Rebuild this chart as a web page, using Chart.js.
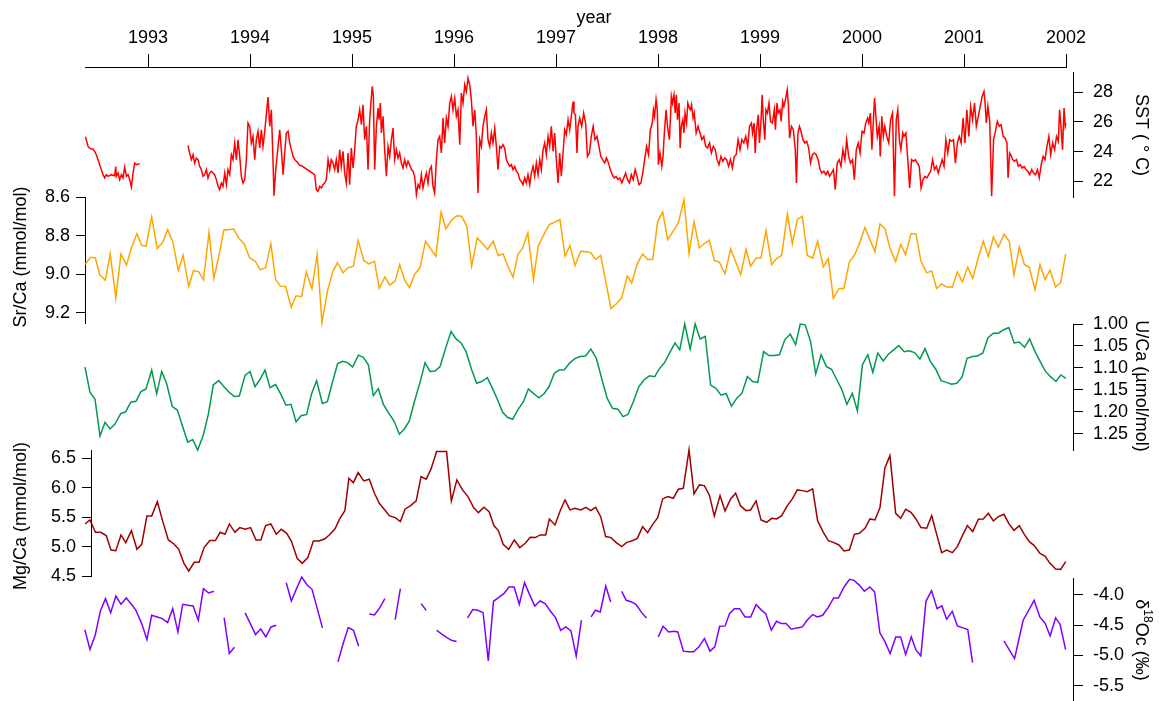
<!DOCTYPE html>
<html>
<head>
<meta charset="utf-8">
<script src="https://cdn.jsdelivr.net/npm/chart.js@4.4.1/dist/chart.umd.min.js"></script>
<style>
  html, body { margin: 0; padding: 0; background: #fff; }
  #wrap { width: 1159px; height: 701px; }
</style>
</head>
<body>
<div id="wrap"><canvas id="main-chart" width="1159" height="701"></canvas></div>
<script>
// tick values
const yearTicks = [1993, 1994, 1995, 1996, 1997, 1998, 1999, 2000, 2001, 2002];
const sstTicks = [22, 24, 26, 28];
const srcaTicks = [8.6, 8.8, 9.0, 9.2];
const ucaTicks = [1.00, 1.05, 1.10, 1.15, 1.20, 1.25];
const mgcaTicks = [4.5, 5.0, 5.5, 6.0, 6.5];
const d18oTicks = [-4.0, -4.5, -5.0, -5.5];

// SST (weekly, with gaps)
const sstYears = [
  1992.386,1992.412,1992.428,1992.444,1992.461,1992.477,1992.493,1992.510,1992.526,1992.542,1992.559,1992.575,1992.592,1992.608,1992.641,1992.673,1992.683,1992.690,1992.706,1992.722,1992.739,1992.755,1992.771,1992.788,1992.804,1992.820,1992.837,1992.853,1992.869,1992.886,1992.918,
  1993.150,
  1993.392,1993.408,1993.425,1993.441,1993.457,1993.474,1993.490,1993.506,1993.523,1993.539,1993.555,1993.572,1993.588,1993.604,1993.621,1993.637,1993.653,1993.670,1993.686,1993.702,1993.719,1993.735,1993.752,1993.768,1993.784,1993.801,1993.817,1993.833,1993.850,1993.866,1993.882,1993.899,1993.915,1993.931,1993.948,1993.964,1993.980,1993.997,
  1994.013,1994.029,1994.046,1994.062,1994.078,1994.095,1994.111,1994.127,1994.144,1994.160,1994.176,1994.193,1994.209,1994.225,1994.235,1994.252,1994.275,1994.291,1994.307,1994.324,1994.340,1994.356,1994.373,1994.389,1994.405,1994.422,1994.438,1994.454,1994.471,1994.487,1994.503,
  1994.634,1994.650,1994.667,1994.683,1994.699,1994.716,1994.732,1994.748,1994.765,1994.781,1994.797,1994.814,1994.830,1994.846,1994.863,1994.879,1994.895,1994.912,1994.928,1994.944,1994.961,1994.977,1994.993,
  1995.010,1995.026,1995.042,1995.059,1995.075,1995.092,1995.108,1995.124,1995.141,1995.157,1995.173,1995.190,1995.199,1995.209,1995.222,1995.239,1995.255,1995.265,1995.278,1995.288,1995.304,1995.320,1995.337,1995.353,1995.369,1995.386,1995.402,1995.418,1995.435,1995.451,1995.467,1995.484,1995.500,1995.516,1995.533,1995.549,1995.565,1995.582,1995.598,1995.614,1995.631,1995.647,1995.663,1995.680,1995.696,1995.712,1995.729,1995.745,1995.761,1995.778,1995.794,1995.810,1995.827,1995.843,1995.859,1995.876,1995.892,1995.908,1995.925,1995.941,1995.958,1995.974,1995.990,
  1996.007,1996.023,1996.039,1996.056,1996.072,1996.088,1996.105,1996.121,1996.137,1996.154,1996.170,1996.186,1996.203,1996.219,1996.235,1996.252,1996.268,1996.284,1996.301,1996.317,1996.333,1996.350,1996.366,1996.382,1996.399,1996.415,1996.431,1996.448,1996.464,1996.480,1996.497,1996.513,1996.529,1996.546,1996.562,1996.578,1996.595,1996.611,1996.627,1996.644,1996.660,1996.676,1996.693,1996.709,1996.725,1996.742,1996.758,1996.775,1996.791,1996.807,1996.824,1996.840,1996.856,1996.873,1996.889,1996.905,1996.922,1996.938,1996.954,1996.971,1996.987,
  1997.003,1997.020,1997.036,1997.052,1997.069,1997.085,1997.101,1997.118,1997.134,1997.150,1997.167,1997.176,1997.190,1997.206,1997.216,1997.232,
  1997.252,1997.271,1997.290,1997.308,1997.327,1997.346,1997.364,1997.383,1997.402,1997.421,1997.439,1997.458,1997.477,1997.495,1997.514,1997.533,1997.551,1997.570,1997.589,1997.607,1997.626,1997.645,1997.664,1997.682,1997.701,1997.720,1997.738,1997.757,1997.776,1997.794,1997.813,1997.832,1997.850,1997.869,1997.888,1997.907,1997.925,1997.944,1997.955,1997.966,1997.981,1997.993,
  1998.004,1998.019,1998.037,1998.049,1998.064,1998.079,1998.093,1998.112,1998.131,1998.142,1998.157,1998.168,1998.179,1998.191,1998.206,1998.217,1998.228,1998.243,1998.254,1998.265,1998.280,1998.292,1998.307,1998.318,1998.329,1998.344,1998.355,1998.374,1998.393,1998.411,1998.430,1998.449,1998.467,1998.486,1998.505,1998.523,1998.542,1998.561,1998.579,1998.598,1998.617,1998.636,1998.654,1998.673,1998.692,1998.710,1998.729,1998.748,1998.766,1998.785,1998.804,1998.822,1998.841,1998.860,1998.879,1998.897,1998.916,1998.927,1998.942,1998.953,1998.964,1998.983,1998.994,
  1999.009,1999.021,1999.032,1999.047,1999.058,1999.073,1999.088,1999.103,1999.121,1999.140,1999.151,1999.166,1999.178,1999.196,1999.207,1999.222,1999.234,1999.252,1999.267,1999.279,1999.290,1999.308,1999.327,1999.346,1999.357,1999.372,1999.387,1999.402,1999.421,1999.439,1999.458,1999.477,1999.495,1999.514,1999.533,1999.551,1999.570,1999.589,1999.607,1999.626,1999.645,1999.664,1999.682,1999.701,1999.720,1999.738,1999.757,1999.776,1999.794,1999.813,1999.832,1999.850,1999.869,1999.888,1999.907,1999.925,1999.944,1999.963,1999.981,
  2000.000,2000.019,2000.037,2000.056,2000.067,2000.082,2000.097,2000.112,2000.123,2000.135,2000.150,2000.168,2000.179,2000.194,2000.209,2000.224,2000.243,2000.262,2000.280,2000.299,2000.318,2000.336,2000.351,2000.366,2000.381,2000.400,2000.411,2000.430,2000.449,2000.467,2000.486,2000.505,2000.523,2000.542,2000.561,2000.579,2000.598,2000.617,2000.636,2000.654,2000.673,2000.692,2000.710,2000.729,2000.748,2000.766,2000.785,2000.804,2000.822,2000.841,2000.860,2000.879,2000.897,2000.916,2000.935,2000.953,2000.972,2000.991,
  2001.009,2001.028,2001.047,2001.065,2001.084,2001.103,2001.121,2001.140,2001.159,2001.178,2001.196,2001.207,2001.219,2001.234,2001.252,2001.271,2001.290,2001.308,2001.327,2001.346,2001.364,2001.383,2001.402,2001.421,2001.432,2001.447,2001.465,2001.477,2001.495,2001.514,2001.533,2001.551,2001.570,2001.589,2001.607,2001.626,2001.645,2001.664,2001.682,2001.701,2001.720,2001.738,2001.757,2001.776,2001.794,2001.813,2001.832,2001.850,2001.869,2001.888,2001.907,2001.925,2001.937,2001.951,2001.966,2001.981,2001.993,2002.000
];
const sstValues = [
  25.00,24.35,24.24,24.17,24.17,24.02,23.79,23.46,23.12,22.79,22.45,22.23,22.45,22.34,22.45,22.38,23.00,22.34,22.56,22.12,22.45,22.23,22.97,22.34,22.45,22.12,21.62,22.56,23.23,23.12,23.19,
  null,
  24.40,23.91,23.46,23.79,23.23,23.57,23.46,23.01,22.79,22.34,22.45,22.79,22.23,22.56,22.68,22.56,22.45,22.12,21.67,21.45,21.89,21.67,22.56,21.78,22.79,22.45,23.79,23.46,24.58,23.46,24.80,23.68,22.34,21.89,22.12,23.46,25.92,25.70,
  24.58,25.02,23.46,24.80,25.36,24.24,25.47,24.35,25.36,26.48,27.66,25.70,26.81,23.46,21.04,22.79,24.35,25.47,24.13,22.45,23.91,25.25,25.36,24.58,24.13,23.68,23.46,23.35,23.23,23.06,23.06,
  22.45,21.45,21.33,21.67,21.56,21.78,21.89,22.12,23.46,22.79,23.46,23.23,22.79,23.46,22.56,24.13,23.01,24.02,22.56,21.89,23.91,21.78,24.24,
  22.90,24.13,25.70,26.14,26.81,25.81,27.15,24.80,25.70,22.79,26.14,27.71,28.38,27.71,22.79,25.70,26.93,26.14,27.26,25.25,26.37,24.13,22.34,24.35,23.68,24.80,25.58,23.46,24.13,23.57,23.91,23.23,22.90,23.46,23.01,23.35,23.12,22.79,22.68,22.34,21.11,21.78,21.56,22.45,21.56,22.12,22.56,21.89,22.79,23.01,21.67,21.22,23.46,24.80,25.02,23.91,26.26,24.58,26.26,25.70,27.26,27.71,26.81,
  27.60,26.37,26.81,24.47,27.93,27.26,28.49,28.04,28.94,28.49,27.49,25.70,26.81,25.02,21.22,24.80,24.35,25.70,26.37,26.81,24.80,24.35,25.25,24.58,25.58,24.35,22.79,24.35,24.24,24.47,24.24,23.46,23.23,23.01,23.12,22.79,23.01,22.68,22.56,22.12,22.00,21.78,22.23,21.89,22.45,21.78,22.56,23.01,22.34,23.23,22.45,23.46,22.79,24.13,24.58,23.79,25.02,24.35,25.70,24.02,25.25,
  23.46,21.89,23.91,22.34,23.91,25.47,25.14,26.14,25.47,26.37,27.37,26.59,26.48,23.91,25.70,26.26,
  25.70,26.59,25.92,23.68,23.91,25.02,25.70,24.80,25.02,24.35,23.68,23.46,23.23,23.57,23.23,22.79,22.45,22.23,22.34,22.12,22.23,21.89,22.23,22.56,22.12,21.89,22.45,22.12,22.79,22.34,21.78,21.89,22.56,23.46,24.35,23.79,25.47,25.92,26.81,26.37,27.49,26.81,
  23.12,23.91,23.01,23.68,25.47,26.81,25.70,24.80,27.71,27.26,27.82,26.59,27.82,26.14,27.26,24.24,25.70,26.14,25.25,26.59,25.92,27.26,26.93,26.81,27.15,26.26,26.59,25.25,25.70,25.25,24.80,25.02,24.35,24.24,24.58,23.91,24.35,24.13,23.46,23.12,23.68,23.35,23.57,23.46,23.01,23.46,22.90,23.68,23.79,24.80,24.13,24.80,24.58,25.02,24.35,25.70,25.92,25.25,25.92,23.91,25.36,26.48,24.58,
  25.92,27.82,26.14,24.80,26.81,26.59,27.26,26.03,25.92,26.81,25.47,27.26,26.59,26.81,26.03,27.37,27.04,27.60,28.16,27.04,24.91,25.70,25.47,24.13,21.89,25.25,25.70,25.36,24.80,24.58,24.69,24.24,23.23,23.79,23.91,23.79,23.46,22.79,22.56,22.68,22.45,22.68,22.34,22.56,22.79,21.45,23.23,23.46,23.01,24.13,23.46,24.80,23.68,23.23,23.46,22.12,24.13,24.58,23.91,
  25.36,25.25,25.92,26.26,25.92,26.59,24.13,26.14,27.60,26.48,25.02,25.70,23.68,26.37,25.02,25.70,25.02,24.58,26.14,26.59,21.00,26.14,26.81,24.80,24.13,25.25,25.02,25.25,23.46,21.56,23.46,23.35,23.46,23.23,23.01,21.56,22.12,22.34,22.23,22.45,22.68,23.46,22.79,23.01,22.56,23.01,23.46,23.01,24.80,23.91,24.80,24.69,24.80,23.23,24.58,25.02,24.58,26.26,
  24.58,26.81,25.02,27.04,26.14,27.26,25.70,26.37,27.04,27.71,28.04,27.26,25.92,27.04,26.03,21.00,24.80,25.36,26.03,25.70,25.81,25.02,24.91,24.58,22.23,23.91,23.68,23.46,23.35,23.46,23.01,23.12,22.90,23.01,22.79,22.68,22.45,22.79,22.56,22.45,22.79,22.23,23.12,23.68,23.46,24.35,25.02,23.79,24.58,24.13,25.02,24.69,26.81,25.70,24.13,26.93,25.70,25.92
];

// Sr/Ca
const srcaYears = [
  1992.383,1992.437,1992.484,1992.528,1992.582,1992.629,1992.684,1992.735,1992.789,1992.836,1992.891,1992.938,1992.981,
  1993.036,1993.090,1993.145,1993.192,1993.243,1993.297,1993.344,1993.399,1993.446,1993.497,1993.544,1993.598,1993.645,1993.696,1993.743,1993.841,1993.888,1993.943,1993.997,
  1994.052,1994.099,1994.153,1994.204,1994.251,1994.298,1994.349,1994.404,1994.451,1994.505,1994.552,1994.607,1994.658,1994.705,1994.759,1994.814,1994.857,1994.912,1994.959,
  1995.013,1995.060,1995.115,1995.165,1995.220,1995.267,1995.322,1995.369,1995.423,1995.467,1995.514,1995.564,1995.612,1995.666,1995.721,1995.775,1995.822,1995.873,1995.920,1995.974,
  1996.028,1996.075,1996.126,1996.173,1996.227,1996.275,1996.329,1996.384,1996.434,1996.481,1996.528,1996.579,1996.626,1996.673,1996.724,1996.779,1996.826,1996.880,1996.935,
  1997.039,1997.088,1997.137,1997.186,1997.242,1997.294,1997.340,1997.389,1997.438,1997.487,1997.539,1997.595,1997.644,1997.699,1997.742,1997.797,1997.849,1997.898,1997.948,1997.997,
  1998.046,1998.095,1998.150,1998.199,1998.255,1998.304,1998.353,1998.405,1998.454,1998.503,1998.552,1998.601,1998.657,1998.712,1998.761,1998.810,1998.863,1998.908,1998.961,
  1999.010,1999.059,1999.114,1999.163,1999.212,1999.268,1999.317,1999.366,1999.415,1999.464,1999.516,1999.565,1999.621,1999.670,1999.719,1999.774,1999.823,1999.876,1999.925,1999.974,
  2000.029,2000.078,2000.127,2000.176,2000.225,2000.274,2000.330,2000.379,2000.428,2000.480,2000.529,2000.578,2000.634,2000.683,2000.732,2000.781,2000.830,2000.886,2000.935,2000.984,
  2001.036,2001.085,2001.141,2001.189,2001.239,2001.288,2001.337,2001.392,2001.444,2001.490,2001.542,2001.591,2001.640,2001.696,2001.745,2001.794,2001.843,2001.898,2001.948,2001.997
];
const srcaValues = [
  8.950,8.912,8.916,9.005,9.031,8.895,9.122,8.895,8.953,8.864,8.790,8.850,8.855,
  8.703,8.867,8.834,8.769,8.833,8.981,8.902,9.064,8.981,8.988,9.029,8.783,9.022,8.902,8.772,8.766,8.812,8.843,8.916,
  8.933,8.978,8.967,8.843,9.028,9.062,9.064,9.171,9.112,9.117,8.988,9.076,8.898,9.252,9.088,8.984,8.941,8.993,8.967,
  8.959,8.826,8.929,8.947,8.933,9.074,9.014,9.057,9.036,8.950,9.028,9.071,9.002,8.967,8.829,8.872,8.907,8.678,8.766,8.721,
  8.697,8.700,8.752,8.959,8.812,8.838,8.872,8.829,8.903,8.895,8.959,9.016,8.898,8.864,8.786,9.028,8.855,8.795,8.743,
  8.717,8.907,8.852,8.955,8.881,8.884,8.888,8.924,8.903,9.036,9.178,9.152,9.122,9.010,9.045,8.945,8.895,8.924,8.924,8.726,
  8.678,8.821,8.776,8.734,8.614,8.893,8.729,8.864,8.841,8.824,8.929,8.938,8.998,8.869,8.936,9.002,8.872,8.959,8.917,
  8.915,8.774,8.950,8.919,8.902,8.688,8.843,8.716,8.700,8.903,8.917,8.829,8.962,8.919,9.126,9.074,9.074,8.936,8.903,8.843,
  8.757,8.821,8.884,8.740,8.764,8.864,8.934,8.845,8.898,8.790,8.791,8.933,8.993,8.983,9.074,9.050,9.067,9.067,8.988,9.040,
  8.964,9.022,8.912,8.829,8.909,8.807,8.860,8.793,8.829,9.005,8.859,8.950,8.964,9.081,8.950,9.028,8.979,9.066,9.043,8.895
];

// U/Ca
const ucaYears = [
  1992.382,1992.431,1992.480,1992.529,1992.578,1992.627,1992.676,1992.732,1992.781,1992.830,1992.882,1992.931,1992.980,
  1993.036,1993.085,1993.134,1993.183,1993.238,1993.287,1993.340,1993.389,1993.438,1993.487,1993.542,1993.591,1993.640,1993.693,1993.745,1993.797,1993.846,1993.895,1993.951,
  1994.000,1994.049,1994.098,1994.147,1994.196,1994.251,1994.300,1994.353,1994.402,1994.451,1994.500,1994.555,1994.604,1994.653,1994.709,1994.758,1994.810,1994.859,1994.908,1994.957,
  1995.006,1995.062,1995.111,1995.160,1995.209,1995.258,1995.307,1995.363,1995.412,1995.464,1995.513,1995.562,1995.611,1995.667,1995.716,1995.765,1995.814,1995.863,1995.918,1995.971,
  1996.020,1996.069,1996.118,1996.173,1996.222,1996.271,1996.327,1996.376,1996.428,1996.477,1996.526,1996.575,1996.624,1996.680,1996.729,1996.784,1996.833,1996.882,1996.931,1996.983,
  1997.032,1997.082,1997.137,1997.186,
  1997.236,1997.289,1997.342,1997.395,1997.448,1997.501,1997.554,1997.607,1997.656,1997.705,1997.758,1997.811,1997.864,1997.917,1997.967,
  1998.016,1998.061,1998.114,1998.167,1998.213,1998.262,1998.315,1998.364,1998.413,1998.463,1998.516,1998.565,1998.618,1998.667,1998.720,1998.773,1998.822,1998.876,1998.928,1998.978,
  1999.035,1999.087,1999.140,1999.190,1999.243,1999.296,1999.349,1999.394,1999.443,1999.496,1999.546,1999.599,1999.652,1999.701,1999.754,1999.803,1999.852,1999.905,1999.955,
  2000.004,2000.057,2000.106,2000.155,2000.208,2000.258,2000.311,2000.360,2000.413,2000.462,2000.515,2000.568,2000.617,2000.670,2000.723,2000.776,2000.826,2000.879,2000.928,2000.981,
  2001.030,2001.083,2001.132,2001.185,2001.234,2001.287,2001.337,2001.390,2001.439,2001.492,2001.541,2001.594,2001.643,2001.696,2001.746,2001.799,2001.848,2001.901,2001.950,2001.999
];
const ucaValues = [
  1.098,1.156,1.171,1.255,1.224,1.239,1.228,1.204,1.200,1.178,1.176,1.154,1.148,
  1.105,1.159,1.108,1.136,1.188,1.196,1.234,1.269,1.263,1.287,1.253,1.206,1.139,1.129,1.143,1.156,1.165,1.164,1.117,
  1.108,1.143,1.126,1.105,1.145,1.138,1.159,1.185,1.183,1.223,1.209,1.206,1.158,1.129,1.181,1.177,1.131,1.090,1.085,1.088,
  1.098,1.071,1.076,1.093,1.163,1.147,1.183,1.204,1.221,1.251,1.239,1.221,1.177,1.133,1.088,1.108,1.107,1.097,1.055,1.017,
  1.034,1.043,1.063,1.104,1.135,1.131,1.122,1.146,1.173,1.201,1.213,1.217,1.196,1.177,1.148,1.159,1.168,1.159,1.143,1.112,
  1.105,1.104,1.088,1.079,
  1.074,1.073,1.057,1.078,1.124,1.169,1.192,1.194,1.211,1.206,1.177,1.143,1.127,1.118,1.120,
  1.101,1.089,1.066,1.043,1.059,1.000,1.057,1.000,1.034,1.028,1.139,1.146,1.162,1.158,1.187,1.169,1.158,1.120,1.131,1.133,
  1.063,1.072,1.072,1.070,1.036,1.023,1.047,1.000,1.002,1.040,1.114,1.070,1.097,1.103,1.127,1.150,1.183,1.158,1.198,
  1.093,1.070,1.110,1.066,1.084,1.069,1.059,1.049,1.063,1.061,1.065,1.080,1.056,1.085,1.103,1.129,1.133,1.137,1.135,1.121,
  1.078,1.074,1.073,1.066,1.032,1.021,1.021,1.013,1.008,1.043,1.041,1.053,1.034,1.063,1.085,1.108,1.120,1.131,1.116,1.124
];

// Mg/Ca
const mgcaYears = [
  1992.383,1992.430,1992.485,1992.536,1992.590,1992.637,1992.684,1992.735,1992.782,1992.837,1992.891,1992.938,1992.989,
  1993.036,1993.091,1993.145,1993.199,1993.254,1993.301,1993.352,1993.399,1993.453,1993.500,1993.551,1993.606,1993.660,1993.707,1993.754,1993.798,1993.852,1993.899,1993.954,
  1994.005,1994.059,1994.106,1994.153,1994.204,1994.258,1994.306,1994.360,1994.407,1994.462,1994.512,1994.567,1994.621,1994.676,1994.730,1994.777,1994.832,1994.879,1994.930,1994.969,
  1995.013,1995.060,1995.115,1995.169,1995.220,1995.267,1995.321,1995.368,1995.423,1995.474,1995.521,1995.575,1995.629,1995.677,1995.727,1995.775,1995.829,1995.883,1995.927,1995.974,
  1996.028,1996.083,1996.137,1996.192,1996.239,1996.293,1996.344,1996.391,1996.435,1996.482,1996.536,1996.591,1996.645,1996.699,1996.747,1996.797,1996.845,1996.899,1996.935,1996.990,
  1997.044,1997.088,1997.137,1997.186,1997.242,1997.294,1997.340,1997.389,1997.438,1997.487,1997.539,1997.588,1997.644,1997.693,1997.742,1997.797,1997.849,1997.898,1997.948,1997.997,
  1998.046,1998.095,1998.150,1998.199,1998.248,1998.304,1998.353,1998.405,1998.454,1998.503,1998.552,1998.608,1998.657,1998.712,1998.761,1998.810,1998.863,1998.908,1998.961,
  1999.010,1999.065,1999.114,1999.163,1999.212,1999.268,1999.317,1999.366,1999.415,1999.464,1999.516,1999.565,1999.621,1999.670,1999.719,1999.774,1999.823,1999.876,1999.925,1999.974,
  2000.029,2000.078,2000.127,2000.176,2000.225,2000.274,2000.330,2000.379,2000.428,2000.480,2000.529,2000.578,2000.634,2000.683,2000.732,2000.781,2000.830,2000.886,2000.935,2000.984,
  2001.033,2001.085,2001.141,2001.189,2001.239,2001.288,2001.337,2001.392,2001.441,2001.490,2001.542,2001.591,2001.640,2001.689,2001.745,2001.794,2001.843,2001.898,2001.948,2001.997
];
const mgcaValues = [
  5.384,5.452,5.242,5.242,5.186,4.942,4.931,5.197,5.067,5.271,4.953,5.038,5.520,
  5.520,5.763,5.424,5.112,5.044,4.953,4.715,4.585,4.732,4.732,4.987,5.101,5.101,5.242,5.208,5.384,5.242,5.322,5.293,
  5.322,5.112,5.112,5.356,5.384,5.208,5.293,5.225,5.084,4.800,4.715,4.812,5.095,5.095,5.129,5.197,5.299,5.469,5.610,6.160,
  6.086,6.256,6.115,6.143,5.905,5.735,5.622,5.520,5.492,5.424,5.639,5.695,5.775,6.188,6.143,6.319,6.613,6.613,6.613,5.775,
  6.132,5.962,5.848,5.661,5.576,5.667,5.593,5.356,5.271,5.038,4.953,5.112,4.982,5.055,5.157,5.152,5.197,5.197,5.469,5.367,
  5.622,5.792,5.622,5.650,5.622,5.667,5.610,5.667,5.508,5.169,5.152,5.072,4.999,5.072,5.095,5.140,5.339,5.237,5.378,5.492,
  5.809,5.848,5.820,5.973,5.990,6.642,5.894,6.047,6.035,5.877,5.520,5.865,5.605,5.809,5.905,5.690,5.610,5.622,5.775,
  5.452,5.412,5.480,5.469,5.525,5.695,5.809,5.962,5.950,5.933,5.979,5.435,5.242,5.101,5.072,5.027,4.925,4.942,5.208,5.225,
  5.310,5.469,5.452,5.661,6.341,6.545,5.565,5.480,5.633,5.582,5.469,5.322,5.310,5.525,5.208,4.897,4.942,4.897,4.999,5.186,
  5.356,5.254,5.463,5.469,5.565,5.435,5.508,5.548,5.384,5.276,5.356,5.208,5.084,5.016,4.885,4.840,4.715,4.619,4.613,4.744
];

// d18O (gaps = null)
const d18oYears = [
  1992.380,1992.431,1992.482,1992.533,1992.583,1992.634,1992.685,1992.735,1992.786,1992.837,1992.881,1992.938,1992.989,1993.036,1993.090,1993.141,1993.192,1993.242,1993.293,1993.340,1993.391,1993.442,1993.493,1993.543,1993.594,1993.645,
  1993.695,
  1993.746,1993.797,1993.848,
  1993.900,
  1993.952,1994.003,1994.054,1994.105,1994.155,1994.206,1994.257,
  1994.306,
  1994.355,1994.405,1994.456,1994.507,1994.558,1994.608,1994.659,1994.710,
  1994.786,
  1994.862,1994.913,1994.963,1995.014,1995.065,
  1995.117,
  1995.169,1995.220,1995.271,1995.322,
  1995.372,
  1995.423,1995.474,
  1995.575,
  1995.677,1995.727,
  1995.778,
  1995.829,1995.880,1995.930,1995.981,1996.025,
  1996.080,
  1996.133,1996.184,1996.234,1996.285,1996.336,1996.387,1996.437,1996.488,1996.539,1996.589,1996.640,1996.691,1996.741,1996.792,1996.843,1996.893,1996.944,1996.995,1997.046,1997.096,1997.147,1997.198,1997.249,
  1997.297,
  1997.344,1997.387,1997.434,1997.488,1997.536,
  1997.590,
  1997.644,1997.688,1997.742,1997.785,1997.840,1997.887,
  1997.945,
  1998.003,1998.050,1998.104,1998.158,1998.194,1998.249,1998.303,1998.350,1998.401,1998.455,1998.509,1998.557,1998.604,1998.658,1998.701,1998.748,1998.799,1998.853,1998.908,1998.962,
  1999.009,1999.056,1999.111,1999.161,1999.208,1999.255,1999.306,1999.364,1999.415,1999.462,1999.516,1999.563,1999.614,1999.668,1999.722,1999.769,1999.824,1999.878,1999.922,1999.976,
  2000.023,2000.077,2000.124,2000.175,2000.222,2000.276,2000.331,2000.378,2000.428,2000.483,2000.530,2000.577,2000.627,2000.682,2000.736,2000.783,2000.830,2000.885,2000.935,2000.990,
  2001.037,2001.084,
  2001.240,
  2001.391,2001.496,2001.580,2001.688,2001.743,2001.797,2001.844,2001.898,2001.942,2001.996
];
const d18oValues = [
  -4.575,-4.903,-4.668,-4.268,-4.066,-4.296,-4.022,-4.159,-4.055,-4.159,-4.257,-4.476,-4.739,-4.339,-4.367,-4.394,-4.460,-4.230,-4.613,-4.159,-4.175,-4.186,-4.421,-3.901,-3.973,-3.945,
  null,
  -4.378,-4.969,-4.865,
  null,
  -4.301,-4.476,-4.657,-4.564,-4.695,-4.531,-4.504,
  null,
  -3.803,-4.104,-3.901,-3.710,-3.836,-3.912,-4.230,-4.547,
  null,
  -5.106,-4.805,-4.542,-4.586,-4.848,
  null,
  -4.317,-4.334,-4.219,-4.066,
  null,
  -4.411,-3.901,
  null,
  -4.148,-4.257,
  null,
  -4.586,-4.651,-4.706,-4.755,-4.772,
  null,
  -4.383,-4.246,-4.257,-4.296,-5.089,-4.109,-4.049,-3.984,-3.874,-3.874,-4.159,-3.803,-4.000,-4.186,-4.104,-4.148,-4.268,-4.378,-4.586,-4.531,-4.597,-5.013,-4.421,
  null,
  -4.367,-4.257,-4.285,-3.858,-4.120,
  null,
  -3.945,-4.093,-4.120,-4.164,-4.296,-4.383,
  null,
  -4.695,-4.520,-4.613,-4.602,-4.613,-4.930,-4.941,-4.941,-4.859,-4.722,-4.930,-4.859,-4.520,-4.514,-4.312,-4.230,-4.230,-4.367,-4.367,-4.164,
  -4.246,-4.312,-4.586,-4.438,-4.476,-4.476,-4.569,-4.547,-4.531,-4.421,-4.328,-4.367,-4.339,-4.213,-4.055,-4.055,-3.874,-3.748,-3.765,-3.847,
  -3.945,-3.874,-3.956,-4.629,-4.766,-4.969,-4.695,-4.695,-4.985,-4.695,-4.914,-5.007,-4.109,-3.934,-4.230,-4.186,-4.405,-4.274,-4.514,-4.547,
  -4.575,-5.117,
  null,
  -4.761,-5.051,-4.421,-4.093,-4.367,-4.476,-4.679,-4.383,-4.487,-4.903
];

const FONT = "'Liberation Sans', Arial, Helvetica, sans-serif";

// where each axis sits on the page (stacked panels)
const panelBoxes = {
  x:    { left: 85,   right: 1066, top: 0,   bottom: 67 },
  ySst: { left: 1073, right: 1159, top: 72,  bottom: 197 },
  ySr:  { left: 0,    right: 85,   top: 197, bottom: 323 },
  yU:   { left: 1073, right: 1159, top: 324, bottom: 450 },
  yMg:  { left: 0,    right: 91,   top: 450, bottom: 576 },
  yO:   { left: 1073, right: 1159, top: 578, bottom: 701 }
};

// axis titles: text runs and where they are centred
const axisTitleRuns = {
  x:    [{ text: "year" }],
  ySst: [{ text: "SST ( \u00B0 C)" }],
  ySr:  [{ text: "Sr/Ca (mmol/mol)" }],
  yU:   [{ text: "U/Ca (\u00B5mol/mol)" }],
  yMg:  [{ text: "Mg/Ca (mmol/mol)" }],
  yO:   [{ text: "\u03B4" }, { text: "18", sup: true }, { text: "Oc (\u2030)" }]
};
const axisTitleSpots = {
  x:    { x: 594,  y: 18,  rotation: 0 },
  ySst: { x: 1141, y: 135, rotation: Math.PI / 2 },
  ySr:  { x: 21,   y: 257, rotation: -Math.PI / 2 },
  yU:   { x: 1141, y: 386, rotation: Math.PI / 2 },
  yMg:  { x: 21,   y: 516, rotation: -Math.PI / 2 },
  yO:   { x: 1141, y: 640, rotation: Math.PI / 2 }
};

const panelLayout = {
  id: "panelLayout",
  afterLayout(chart) {
    Object.keys(panelBoxes).forEach((id) => {
      const scale = chart.scales[id];
      const box = panelBoxes[id];
      if (!scale) return;
      scale.left = box.left;
      scale.right = box.right;
      scale.top = box.top;
      scale.bottom = box.bottom;
      scale.width = box.right - box.left;
      scale.height = box.bottom - box.top;
      scale.configure();
    });
  }
};

const axisTitles = {
  id: "axisTitles",
  afterDraw(chart) {
    const ctx = chart.ctx;
    Object.keys(axisTitleRuns).forEach((id) => {
      const runs = axisTitleRuns[id];
      const spot = axisTitleSpots[id];
      const fontFor = (run) => (run.sup ? "12px " : "18px ") + FONT;
      ctx.save();
      ctx.translate(spot.x, spot.y);
      ctx.rotate(spot.rotation);
      ctx.fillStyle = "#000";
      ctx.textBaseline = "middle";
      ctx.textAlign = "left";
      let total = 0;
      runs.forEach((run) => {
        ctx.font = fontFor(run);
        total += ctx.measureText(run.text).width;
      });
      let pos = -total / 2;
      runs.forEach((run) => {
        ctx.font = fontFor(run);
        ctx.fillText(run.text, pos, run.sup ? -6 : 0);
        pos += ctx.measureText(run.text).width;
      });
      ctx.restore();
    });
  }
};

function toPoints(xs, ys) {
  return xs.map((x, i) => ({ x: x, y: ys[i] }));
}

function yAxis(position, min, max, reverse, tickValues, digits) {
  const left = position === "left";
  return {
    type: "linear",
    position: position,
    min: min,
    max: max,
    reverse: reverse,
    afterBuildTicks: (scale) => {
      scale.ticks = tickValues.map((v) => ({ value: v }));
    },
    grid: { drawOnChartArea: false, drawTicks: true, tickLength: left ? 9 : 10, color: "#000", tickColor: "#000", tickWidth: 1 },
    border: { display: true, color: "#000", width: 1 },
    ticks: {
      color: "#000",
      font: { family: FONT, size: 18 },
      padding: left ? 6 : 10,
      callback: (v) => Number(v).toFixed(digits)
    },
    title: { display: false }
  };
}

function lineSet(label, xs, ys, axisId, color) {
  return {
    label: label,
    data: toPoints(xs, ys),
    xAxisID: "x",
    yAxisID: axisId,
    borderColor: color,
    backgroundColor: color,
    borderWidth: 1.5,
    pointRadius: 0,
    tension: 0,
    fill: false,
    spanGaps: false,
    clip: false
  };
}

const chartCanvas = document.getElementById("main-chart");

const mainChart = new Chart(chartCanvas, {
  type: "line",
  data: {
    datasets: [
      lineSet("SST", sstYears, sstValues, "ySst", "#ff0000"),
      lineSet("Sr/Ca", srcaYears, srcaValues, "ySr", "#ffa500"),
      lineSet("U/Ca", ucaYears, ucaValues, "yU", "#009a4e"),
      lineSet("Mg/Ca", mgcaYears, mgcaValues, "yMg", "#a00000"),
      lineSet("d18O", d18oYears, d18oValues, "yO", "#7f00ff")
    ]
  },
  options: {
    responsive: false,
    maintainAspectRatio: false,
    animation: false,
    events: [],
    layout: { padding: 0 },
    plugins: {
      legend: { display: false },
      tooltip: { enabled: false },
      title: { display: false }
    },
    scales: {
      x: {
        type: "linear",
        position: "top",
        min: 1992.382,
        max: 2002.0,
        afterBuildTicks: (scale) => {
          scale.ticks = yearTicks.map((v) => ({ value: v }));
        },
        grid: { drawOnChartArea: false, drawTicks: true, tickLength: 13, color: "#000", tickColor: "#000" },
        border: { display: true, color: "#000", width: 1 },
        ticks: {
          color: "#000",
          font: { family: FONT, size: 18 },
          padding: 5,
          autoSkip: false,
          maxRotation: 0,
          callback: (v) => String(v)
        },
        title: { display: false }
      },
      ySst: yAxis("right", 20.95, 29.35, false, sstTicks, 0),
      ySr: yAxis("left", 8.6, 9.253, true, srcaTicks, 1),
      yU: yAxis("right", 1.0, 1.287, true, ucaTicks, 2),
      yMg: yAxis("left", 4.5, 6.64, false, mgcaTicks, 1),
      yO: yAxis("right", -5.75, -3.726, false, d18oTicks, 1)
    }
  },
  plugins: [panelLayout, axisTitles]
});
</script>
</body>
</html>
